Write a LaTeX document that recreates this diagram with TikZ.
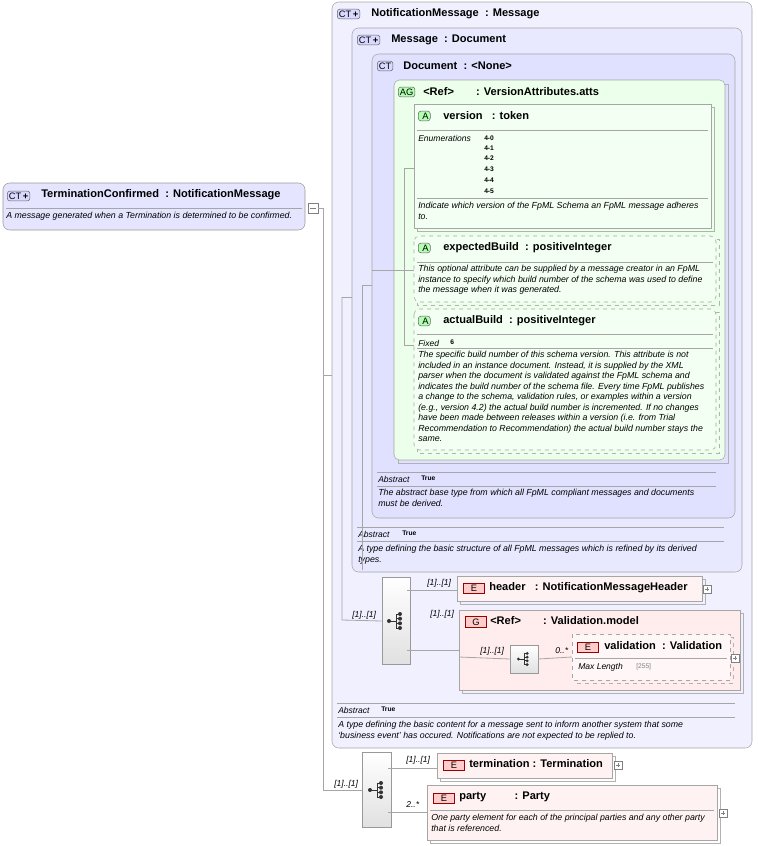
\documentclass[tikz,border=0pt]{standalone}
\usepackage{fontspec}
\setmainfont{Liberation Sans}
\newcommand\ctplus{CT\,\textbf{+}}
\begin{document}
\begin{tikzpicture}[x=0.75pt,y=-0.75pt,
 ttl/.style={anchor=west,inner sep=0,font=\fontsize{8.3}{9}\selectfont\bfseries},
 dsc/.style={anchor=north west,inner sep=0,align=left,font=\fontsize{6.6}{7.9}\selectfont\itshape},
 lbl/.style={anchor=west,inner sep=0,font=\fontsize{6.4}{7}\selectfont\itshape},
 val/.style={anchor=west,inner sep=0,font=\fontsize{5}{6}\selectfont\bfseries},
 sep/.style={draw=gray!70,line width=0.5pt},
 con/.style={draw=gray!70,line width=0.6pt},
 ctb/.style={draw=black!60,fill=blue!15,rounded corners=2pt,inner sep=1.2pt,font=\fontsize{7}{7}\selectfont,anchor=west},
 ab/.style={draw=black!60,fill=green!30,rounded corners=2pt,inner sep=1.2pt,font=\fontsize{7}{7}\selectfont,anchor=west},
 eb/.style={draw=red!60!black,fill=red!20,inner sep=1.5pt,minimum width=16pt,font=\fontsize{7}{7}\selectfont,anchor=west},
 bluebox/.style={draw=black!35,fill=blue!6,rounded corners=5pt},
 greenbox/.style={draw=black!35,fill=green!8},
 pinkbox/.style={draw=black!35,fill=red!7},
 seqb/.style={draw=black!40,top color=white,bottom color=black!12,rectangle},
 seqicon/.pic={\fill[black!80] (-7,0) circle (2) (4,-7) circle (2) (4,-2.3) circle (2) (4,2.3) circle (2) (4,7) circle (2);
   \draw[black!80,line width=0.6pt] (-7,0) -- (0,0) (0,-7) -- (0,7) (0,-7)--(4,-7) (0,-2.3)--(4,-2.3) (0,2.3)--(4,2.3) (0,7)--(4,7);}]
\useasboundingbox (0,0) rectangle (757,846);
% containers
\draw[bluebox] (332,2) rectangle (752,748);
\node[ctb] (b1) at (337,14) {\ctplus};
\node[ttl] (t1) at (371,14) {NotificationMessage\ \ : Message};
\draw[bluebox,fill=blue!9] (352,28) rectangle (742,572);
\node[ctb] (b2) at (357,40) {\ctplus};
\node[ttl] (t2) at (391,40) {Message\ \ : Document};
\draw[bluebox,fill=blue!12] (372,54) rectangle (735,518);
\node[ctb] (b3) at (377,66) {CT};
\node[ttl] (t3) at (403,66) {Document\ \ : <None>};
\draw[black!30] (398,84) rectangle (728,463);
\draw[greenbox,rounded corners=4pt] (394,80) rectangle (725,460);
\node[ab] (b4) at (398,92) {AG};
\node[ttl] (t4) at (423,92) {<Ref>\qquad : VersionAttributes.atts};
% version
\draw[black!30] (417,107) rectangle (714,231);
\draw[greenbox,fill=green!5] (414,104) rectangle (711,228);
\node[ab] (b5) at (418,116) {\ A\ };
\node[ttl] (t5) at (443,116) {version\ \ \ : token};
\draw[sep] (417,130) -- (708,130);
\node[lbl] (en) at (418,138) {Enumerations};
\foreach \v/\yy in {4-0/138,4-1/148,4-2/158,4-3/169,4-4/180,4-5/191}{\node[val] at (484,\yy) {\v};}
\draw[sep] (417,198) -- (708,198);
\node[dsc] (d5) at (418,202) {Indicate which version of the FpML Schema an FpML message adheres\\to.};
% expectedBuild
\draw[black!30,dashed] (417,239) rectangle (719,305);
\draw[greenbox,fill=green!5,dashed,rounded corners=4pt] (414,236) rectangle (716,302);
\node[ab] (b6) at (418,248) {\ A\ };
\node[ttl] (t6) at (443,248) {expectedBuild\ \ : positiveInteger};
\draw[sep] (417,262) -- (713,262);
\node[dsc] (d6) at (418,265) {This optional attribute can be supplied by a message creator in an FpML\\instance to specify which build number of the schema was used to define\\the message when it was generated.};
% actualBuild
\draw[black!30,dashed] (417,312) rectangle (719,453);
\draw[greenbox,fill=green!5,dashed,rounded corners=4pt] (414,309) rectangle (716,450);
\node[ab] (b7) at (418,321) {\ A\ };
\node[ttl] (t7) at (443,321) {actualBuild\ \ : positiveInteger};
\draw[sep] (417,334) -- (713,334);
\node[lbl] (fx) at (418,343) {Fixed};
\node[val] at (450,342) {6};
\draw[sep] (417,348) -- (713,348);
\node[dsc] (d7) at (418,351) {The specific build number of this schema version. This attribute is not\\included in an instance document. Instead, it is supplied by the XML\\parser when the document is validated against the FpML schema and\\indicates the build number of the schema file. Every time FpML publishes\\a change to the schema, validation rules, or examples within a version\\(e.g., version 4.2) the actual build number is incremented. If no changes\\have been made between releases within a version (i.e. from Trial\\Recommendation to Recommendation) the actual build number stays the\\same.};
% document abstract
\draw[sep] (377,472) -- (716,472);
\node[lbl] at (378,479) {Abstract}; \node[val] at (421,478) {True};
\draw[sep] (377,486) -- (716,486);
\node[dsc] at (378,489) {The abstract base type from which all FpML compliant messages and documents\\must be derived.};
% message abstract
\draw[sep] (357,527) -- (724,527);
\node[lbl] at (358,534) {Abstract}; \node[val] at (402,533) {True};
\draw[sep] (357,541) -- (724,541);
\node[dsc] at (358,545) {A type defining the basic structure of all FpML messages which is refined by its derived\\types.};
% seq1
\node[seqb,minimum width=21pt,minimum height=65pt] (s1) at (396,621) {};
\pic at (s1) {seqicon};
\draw[black!30] (460,579) rectangle (705,604);
\draw[pinkbox,fill=red!5] (457,576) rectangle (702,601);
\node[eb] (e1) at (463,588) {E};
\node[ttl] (t8) at (489,588) {header\ \ \ : NotificationMessageHeader};
\draw[black!50,fill=white] (703,585) rectangle (711,593);\draw[black!50](705,589)--(709,589)(707,587)--(707,591);
\draw[black!30] (462,613) rectangle (743,693);
\draw[pinkbox] (459,610) rectangle (740,690);
\node[eb] (e2) at (465,622) {G};
\node[ttl] (t9) at (490,621) {<Ref>\qquad : Validation.model};
\node[seqb,minimum width=21pt,minimum height=21pt] (s2) at (524,659) {};
\pic[scale=0.8] at (s2) {seqicon};
\draw[black!30,dashed] (575,637) rectangle (733,683);
\draw[pinkbox,fill=red!3,dashed] (572,634) rectangle (730,680);
\node[eb] (e3) at (577,647) {E};
\node[ttl] (t10) at (604,646) {validation\ \ : Validation};
\draw[sep] (575,658) -- (727,658);
\node[lbl] at (578,667) {Max Length}; \node[anchor=west,inner sep=0,font=\fontsize{5}{6}\selectfont,text=gray] at (636,667) {[255]};
\draw[black!50,fill=white] (731,654) rectangle (739,662);\draw[black!50](733,658)--(737,658)(735,656)--(735,660);
% outer abstract
\draw[sep] (337,703) -- (735,703);
\node[lbl] at (338,710) {Abstract}; \node[val] at (381,709) {True};
\draw[sep] (337,717) -- (735,717);
\node[dsc] at (338,721) {A type defining the basic content for a message sent to inform another system that some\\`business event' has occured. Notifications are not expected to be replied to.};
% root
\draw[bluebox,fill=blue!10,draw=black!40] (3,183) rectangle (305,230);
\node[ctb] (b0) at (7,196) {\ctplus};
\node[ttl] (t0) at (41,195) {TerminationConfirmed\ \ : NotificationMessage};
\draw[sep] (6,208) -- (302,208);
\node[dsc] (d0) at (6,212) {A message generated when a Termination is determined to be confirmed.};
\draw[black!50,fill=white] (308,203) rectangle (318,213);\draw[black!50](310,208)--(316,208);
% seq3
\node[seqb,minimum width=22pt,minimum height=56pt] (s3) at (377,790) {};
\pic at (s3) {seqicon};
\draw[black!30] (440,756) rectangle (615,781);
\draw[pinkbox,fill=red!5] (437,753) rectangle (612,778);
\node[eb] (e4) at (443,765) {E};
\node[ttl] (t11) at (469,764) {termination\ : Termination};
\draw[black!50,fill=white] (614,761) rectangle (622,769);\draw[black!50](616,765)--(620,765)(618,763)--(618,767);
\draw[black!30] (430,788) rectangle (720,843);
\draw[pinkbox,fill=red!5] (427,785) rectangle (717,840);
\node[eb] (e5) at (433,798) {E};
\node[ttl] (t12) at (459,797) {party\qquad\ \ : Party};
\draw[sep] (430,810) -- (714,810);
\node[dsc] (d12) at (431,814) {One party element for each of the principal parties and any other party\\that is referenced.};
\draw[black!50,fill=white] (719,809) rectangle (727,817);\draw[black!50](721,813)--(725,813)(723,811)--(723,815);
% connectors
\draw[con] (318,208) -- (323,208) -- (323,790) -- (s3.west);
\draw[con] (323,375) -- (332,375);
\draw[con] (342,297) -- (352,297);
\draw[con] (342,297) -- (342,620) -- (s1.west);
\draw[con] (362,285) -- (372,285);
\draw[con] (362,285) -- (362,570);
\draw[con] (372,270) -- (404,270);
\draw[con] (404,168) -- (404,345);
\draw[con] (404,168) -- (414,168) (404,270) -- (414,270) (404,345) -- (414,345);
\draw[con] (407,590) -- (457,590);
\draw[con] (407,650) -- (459,650);
\draw[con] (459,657) -- (s2.west);
\draw[con] (s2.east) -- (572,657);
\draw[con] (388,768) -- (437,768);
\draw[con] (388,812) -- (427,812);
\node[lbl] at (427,583) {[1]..[1]};
\node[lbl] at (430,614) {[1]..[1]};
\node[lbl] at (352,615) {[1]..[1]};
\node[lbl] at (480,651) {[1]..[1]};
\node[lbl] at (555,651) {0..*};
\node[lbl] at (406,760) {[1]..[1]};
\node[lbl] at (334,784) {[1]..[1]};
\node[lbl] at (406,805) {2..*};
\end{tikzpicture}
\end{document}
